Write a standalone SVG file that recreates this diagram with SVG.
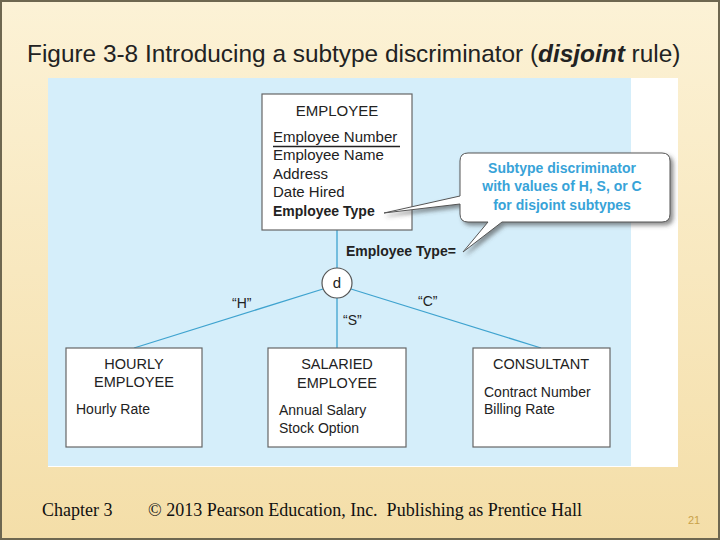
<svg xmlns="http://www.w3.org/2000/svg" width="720" height="540" viewBox="0 0 720 540">
<defs>
<linearGradient id="bg" x1="0" y1="0" x2="0" y2="1">
<stop offset="0" stop-color="#fcf2d6"/>
<stop offset="1" stop-color="#f4dea8"/>
</linearGradient>
<filter id="shadow" x="-10%" y="-10%" width="130%" height="140%">
<feDropShadow dx="3" dy="3" stdDeviation="2" flood-color="#444" flood-opacity="0.6"/>
</filter>
<style>
.t{font-family:"Liberation Sans",Arial,Helvetica,sans-serif;fill:#222;}
.box{fill:#fff;stroke:#666;stroke-width:1.2;}
.conn{stroke:#3fa3cf;stroke-width:1.3;fill:none;}
.ent{font-size:14.5px;}
.emp{font-size:15px;}
.b{font-weight:bold;}
.call{font-family:"Liberation Sans",Arial,sans-serif;font-size:14px;font-weight:bold;fill:#38a3d8;}
.foot{font-family:"Liberation Serif","Times New Roman",serif;font-size:18px;fill:#111;}
</style>
</defs>
<rect x="0" y="0" width="720" height="540" fill="url(#bg)"/>
<rect x="1" y="1" width="718" height="538" fill="none" stroke="#6e6750" stroke-width="2"/>
<text class="t" x="27" y="62" font-size="24.4">Figure 3-8 Introducing a subtype discriminator (<tspan font-weight="bold" font-style="italic">disjoint</tspan> rule)</text>
<rect x="48" y="78" width="630" height="389" fill="#ffffff"/>
<rect x="48" y="78" width="583" height="388" fill="#d5eefa"/>

<g id="connectors">
<line class="conn" x1="337" y1="230" x2="337" y2="268"/>
<line class="conn" x1="323" y1="289" x2="134" y2="348"/>
<line class="conn" x1="337" y1="298" x2="337" y2="348"/>
<line class="conn" x1="351" y1="289" x2="541" y2="348"/>
<text class="t b" x="346" y="256" font-size="14">Employee Type=</text>
<text class="t" x="232" y="308" font-size="14">“H”</text>
<text class="t" x="343" y="325" font-size="14">“S”</text>
<text class="t" x="418" y="306" font-size="14">“C”</text>
</g>

<g id="discriminator">
<circle cx="337" cy="283" r="15" fill="#fff" stroke="#555" stroke-width="1.2"/>
<text class="t" x="337" y="288" font-size="15" text-anchor="middle">d</text>
</g>

<g id="employee">
<rect class="box" x="262" y="94" width="150" height="136"/>
<text class="t emp" x="337" y="116" text-anchor="middle">EMPLOYEE</text>
<text class="t emp" x="273" y="142">Employee Number</text>
<line x1="273" y1="146.5" x2="400" y2="146.5" stroke="#222" stroke-width="1.6"/>
<text class="t emp" x="273" y="160">Employee Name</text>
<text class="t emp" x="273" y="179">Address</text>
<text class="t emp" x="273" y="197">Date Hired</text>
<text class="t b" x="273" y="216" font-size="14">Employee Type</text>
</g>

<g id="callout">
<path d="M468,153 H662 Q670,153 670,161 V214 Q670,222 662,222 H502 L463,252 L488,222 H468 Q460,222 460,214 V204 L384,213 L460,196 V161 Q460,153 468,153 Z" fill="#fff" stroke="#555" stroke-width="1" filter="url(#shadow)"/>
<text class="call" x="562" y="173" text-anchor="middle">Subtype discriminator</text>
<text class="call" x="562" y="191" text-anchor="middle">with values of H, S, or C</text>
<text class="call" x="562" y="210" text-anchor="middle">for disjoint subtypes</text>
</g>

<g id="hourly">
<rect class="box" x="66" y="348" width="136" height="99"/>
<text class="t ent" x="134" y="369" text-anchor="middle">HOURLY</text>
<text class="t ent" x="134" y="387" text-anchor="middle">EMPLOYEE</text>
<text class="t" x="76" y="414" font-size="14">Hourly Rate</text>
</g>

<g id="salaried">
<rect class="box" x="268" y="348" width="138" height="99"/>
<text class="t ent" x="337" y="369" text-anchor="middle">SALARIED</text>
<text class="t ent" x="337" y="388" text-anchor="middle">EMPLOYEE</text>
<text class="t" x="279" y="415" font-size="14">Annual Salary</text>
<text class="t" x="279" y="433" font-size="14">Stock Option</text>
</g>

<g id="consultant">
<rect class="box" x="473" y="348" width="137" height="99"/>
<text class="t ent" x="541" y="369" text-anchor="middle">CONSULTANT</text>
<text class="t" x="484" y="397" font-size="14">Contract Number</text>
<text class="t" x="484" y="414" font-size="14">Billing Rate</text>
</g>

<text class="foot" x="42" y="516" font-size="19">Chapter 3</text>
<text class="foot" x="148" y="516" xml:space="preserve">© 2013 Pearson Education, Inc.  Publishing as Prentice Hall</text>
<text x="688" y="524" font-family="Liberation Sans,Arial,sans-serif" font-size="11" fill="#c9a24a">21</text>
</svg>
